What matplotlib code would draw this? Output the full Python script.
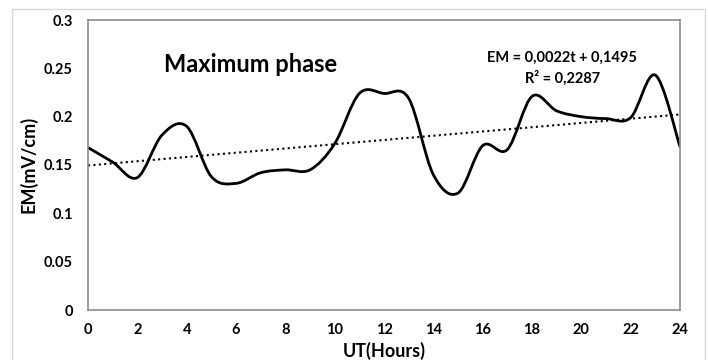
import numpy as np
import matplotlib
matplotlib.use("Agg")
import matplotlib.pyplot as plt
from matplotlib.path import Path
from matplotlib.patches import PathPatch, Rectangle

hours = list(range(0, 25))
em_values = [0.168, 0.153, 0.137, 0.181, 0.190, 0.138, 0.131, 0.142, 0.145, 0.145,
             0.172, 0.224, 0.224, 0.219, 0.140, 0.121, 0.170, 0.166, 0.221, 0.206,
             0.200, 0.198, 0.199, 0.243, 0.169]
trend_slope = 0.0022
trend_intercept = 0.1495
r_squared = "0,2287"
x_ticks = list(range(0, 25, 2))
y_ticks = [0, 0.05, 0.1, 0.15, 0.2, 0.25, 0.3]
y_tick_labels = ["0", "0.05", "0.1", "0.15", "0.2", "0.25", "0.3"]

plt.rcParams['font.family'] = ['Lato', 'DejaVu Sans']
plt.rcParams['font.weight'] = 'bold'

W, H = 708, 360
fig = plt.figure(figsize=(7.08, 3.6), dpi=100)
fig.patches.append(Rectangle((12/W, -0.2), (705-12)/W, 1.2 - 9/H,
                             transform=fig.transFigure, fill=False,
                             edgecolor='#d9d9d9', linewidth=1.0))
ax = fig.add_axes([88/W, 1 - 310/H, (680-88)/W, (310-20)/H])

# Excel-like smoothed line (Catmull-Rom -> cubic Bezier)
x = np.array(hours, dtype=float)
y = np.array(em_values, dtype=float)
verts = [(x[0], y[0])]
codes = [Path.MOVETO]
n = len(x)
for i in range(n - 1):
    p0 = (x[i-1], y[i-1]) if i > 0 else (x[i], y[i])
    p1 = (x[i], y[i])
    p2 = (x[i+1], y[i+1])
    p3 = (x[i+2], y[i+2]) if i + 2 < n else (x[i+1], y[i+1])
    c1 = (p1[0] + (p2[0] - p0[0]) / 6, p1[1] + (p2[1] - p0[1]) / 6)
    c2 = (p2[0] - (p3[0] - p1[0]) / 6, p2[1] - (p3[1] - p1[1]) / 6)
    verts += [c1, c2, p2]
    codes += [Path.CURVE4] * 3
ax.add_patch(PathPatch(Path(verts, codes), facecolor='none', edgecolor='black',
                       linewidth=2.0, capstyle='round', joinstyle='round'))

tx = np.array([hours[0], hours[-1]], dtype=float)
ax.plot(tx, trend_intercept + trend_slope * tx, linestyle=(0, (1, 1.6)),
        color='black', linewidth=1.5)

ax.set_xlim(0, 24)
ax.set_ylim(0, 0.3)
ax.set_xticks(x_ticks)
ax.set_yticks(y_ticks)
ax.set_yticklabels(y_tick_labels)
ax.tick_params(length=0, labelsize=10.5, colors='black')
ax.tick_params(axis='x', pad=9)
ax.tick_params(axis='y', pad=11)
for s in ax.spines.values():
    s.set_color('#8c8c8c')
    s.set_linewidth(1.2)

fig.text(384/W, 1 - 351/H, "UT(Hours)", fontsize=13, fontweight='bold',
         ha='center', va='center')
fig.text(28/W, 1 - 164/H, "EM(mV/cm)", fontsize=13, fontweight='bold',
         ha='center', va='center', rotation=90)

ax.text(0.274, 0.848, "Maximum phase", transform=ax.transAxes, fontsize=17,
        fontweight='bold', ha='center', va='center')
ax.text(0.801, 0.868, "EM = 0,0022t + 0,1495", transform=ax.transAxes,
        fontsize=10.5, fontweight='bold', ha='center', va='center')
ax.text(0.801, 0.80, "R² = " + r_squared, transform=ax.transAxes,
        fontsize=10.5, fontweight='bold', ha='center', va='center')

fig.savefig("out.png", dpi=100)
